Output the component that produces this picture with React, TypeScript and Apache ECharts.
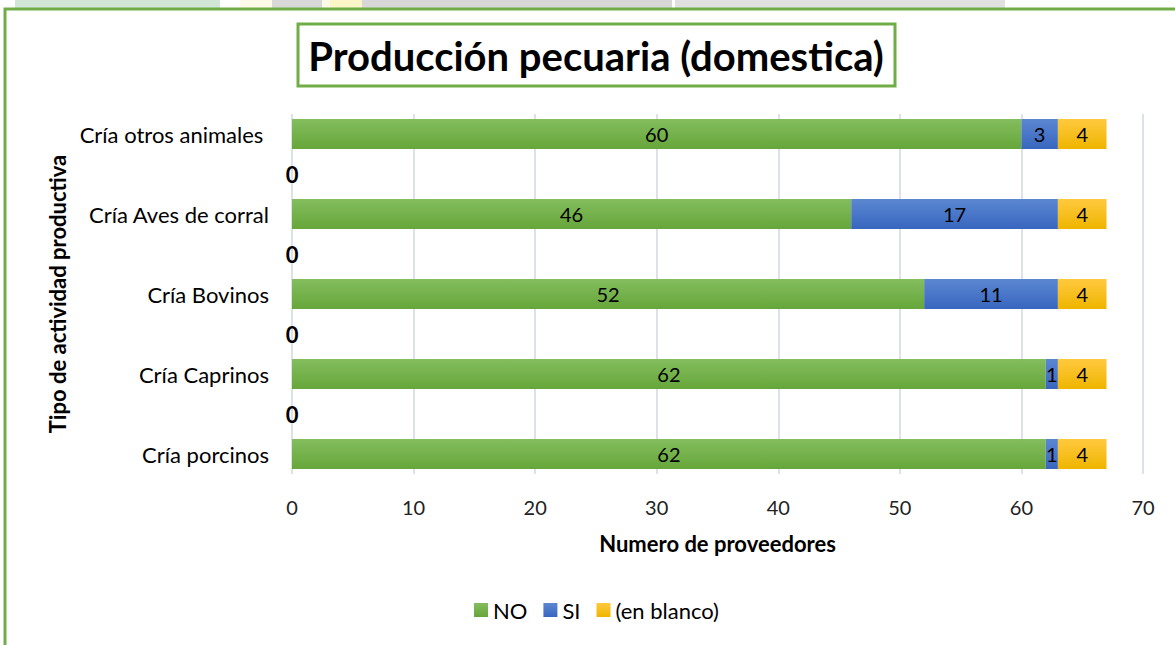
import React, { useEffect, useRef } from "react";
import * as echarts from "echarts";

const categories = [
  "Cría porcinos",
  " ",
  "Cría Caprinos",
  "  ",
  "Cría Bovinos",
  "   ",
  "Cría Aves de corral",
  "    ",
  "Cría otros animales ",
];
const noValues = [62, 0, 62, 0, 52, 0, 46, 0, 60];
const siValues = [1, null, 1, null, 11, null, 17, null, 3];
const blankValues = [4, null, 4, null, 4, null, 4, null, 4];
const xTicks = [0, 10, 20, 30, 40, 50, 60, 70];

const FONT = "Lato, 'Liberation Sans', sans-serif";

function grad(top: string, bottom: string) {
  return new echarts.graphic.LinearGradient(0, 0, 0, 1, [
    { offset: 0, color: top },
    { offset: 1, color: bottom },
  ]);
}

export default function App() {
  const ref = useRef<HTMLDivElement>(null);
  useEffect(() => {
    const chart = echarts.init(ref.current!, null, { renderer: "svg" });
    const labelBase = {
      show: true,
      position: "inside",
      color: "#000",
      fontSize: 20,
      fontFamily: FONT,
    };
    chart.setOption({
      animation: false,
      backgroundColor: "#fff",
      graphic: [
        { type: "rect", shape: { x: 15, y: 0, width: 205, height: 8 }, style: { fill: "#d2e6d6" }, silent: true },
        { type: "rect", shape: { x: 240, y: 0, width: 170, height: 8 }, style: { fill: "#fdfbe8" }, silent: true },
        { type: "rect", shape: { x: 272, y: 0, width: 50, height: 8 }, style: { fill: "#d8d8d8" }, silent: true },
        { type: "rect", shape: { x: 330, y: 0, width: 50, height: 8 }, style: { fill: "#fbf5c8" }, silent: true },
        { type: "rect", shape: { x: 362, y: 0, width: 310, height: 8 }, style: { fill: "#d7d7d7" }, silent: true },
        { type: "rect", shape: { x: 675, y: 0, width: 330, height: 8 }, style: { fill: "#e0e0e0" }, silent: true },
        { type: "rect", shape: { x: 5, y: 9, width: 1300, height: 800 }, style: { fill: "none", stroke: "#70ad47", lineWidth: 3 }, silent: true },
        { type: "rect", shape: { x: 298, y: 24, width: 597, height: 62 }, style: { fill: "#fff", stroke: "#70ad47", lineWidth: 3 }, silent: true },
        {
          type: "text",
          x: 596,
          y: 56,
          style: {
            text: "Producción pecuaria (domestica)",
            fontSize: 40,
            fontWeight: "bold",
            fontFamily: FONT,
            fill: "#000",
            align: "center",
            verticalAlign: "middle",
          },
        },
      ],
      legend: {
        top: 594,
        left: 469,
        itemWidth: 14,
        itemHeight: 14,
        itemGap: 16,
        icon: "rect",
        textStyle: { fontSize: 22, fontFamily: FONT, color: "#000" },
        data: ["NO", "SI", "(en blanco)"],
      },
      grid: { left: 292, right: 32, top: 114, bottom: 171, containLabel: false },
      xAxis: {
        type: "value",
        min: 0,
        max: 70,
        interval: 10,
        name: "Numero de proveedores",
        nameLocation: "middle",
        nameGap: 58,
        nameTextStyle: { fontSize: 22, fontWeight: "bold", fontFamily: FONT, color: "#000" },
        axisLabel: {
          fontSize: 20,
          fontFamily: FONT,
          color: "#222",
          margin: 23,
          formatter: (v: number) => (xTicks.includes(v) ? String(v) : ""),
        },
        axisLine: { show: false },
        axisTick: { show: false },
        splitLine: { show: true, lineStyle: { color: "#dde1ea", width: 2 } },
      },
      yAxis: {
        type: "category",
        data: categories,
        name: "Tipo de actividad productiva",
        nameLocation: "middle",
        nameGap: 224,
        nameRotate: 90,
        nameTextStyle: { fontSize: 22, fontWeight: "bold", fontFamily: FONT, color: "#000" },
        axisLabel: { fontSize: 22, fontFamily: FONT, color: "#000", margin: 23 },
        axisLine: { show: false },
        axisTick: { show: false },
        splitLine: { show: false },
      },
      series: [
        {
          name: "NO",
          type: "bar",
          stack: "total",
          barWidth: 30,
          itemStyle: { color: grad("#84bd5e", "#66a63a") },
          label: { ...labelBase },
          data: noValues.map((v, i) =>
            categories[i].trim() === ""
              ? { value: v, label: { show: true, position: "inside", fontWeight: "bold", fontSize: 22, color: "#000" } }
              : v
          ),
        },
        {
          name: "SI",
          type: "bar",
          stack: "total",
          barWidth: 30,
          itemStyle: { color: grad("#5b87d1", "#3866bf") },
          label: { ...labelBase },
          data: siValues,
        },
        {
          name: "(en blanco)",
          type: "bar",
          stack: "total",
          barWidth: 30,
          itemStyle: { color: grad("#ffc93f", "#efb500") },
          label: { ...labelBase },
          data: blankValues,
        },
      ],
    });
    return () => chart.dispose();
  }, []);
  return (
    <div
      ref={ref}
      style={{ position: "fixed", left: 0, top: 0, width: 1175, height: 645 }}
    />
  );
}
